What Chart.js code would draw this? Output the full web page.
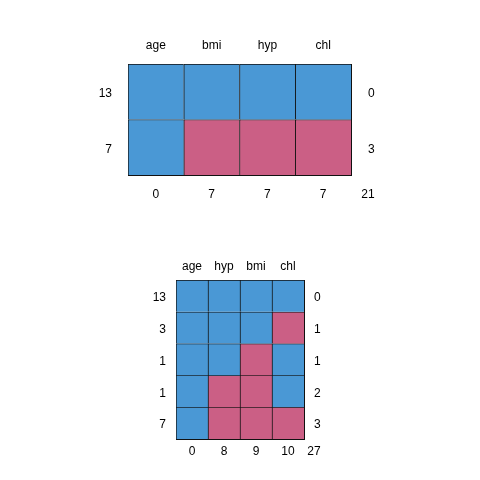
<!DOCTYPE html>
<html>
<head>
<meta charset="utf-8">
<script src="https://cdn.jsdelivr.net/npm/chart.js@4/dist/chart.umd.min.js"></script>
<style>
  body { margin: 0; background: #fff; }
  .panel { position: absolute; left: 0; width: 480px; height: 240px; }
</style>
</head>
<body>
<div class="panel" style="top:0"><canvas id="top" width="480" height="240"></canvas></div>
<div class="panel" style="top:240px"><canvas id="bottom" width="480" height="240"></canvas></div>
<script>
// first pattern: bmi, hyp, chl missing together
const cols1 = ['age', 'bmi', 'hyp', 'chl'];
const pattern1 = [[1, 1, 1, 1], [1, 0, 0, 0]];
const rowCounts1 = [13, 7];
const rowMissing1 = [0, 3];
const colMissing1 = [0, 7, 7, 7];
const total1 = 21;

// second pattern: full nhanes
const cols2 = ['age', 'hyp', 'bmi', 'chl'];
const pattern2 = [[1, 1, 1, 1], [1, 1, 1, 0], [1, 1, 0, 1], [1, 0, 0, 1], [1, 0, 0, 0]];
const rowCounts2 = [13, 3, 1, 1, 7];
const rowMissing2 = [0, 1, 1, 2, 3];
const colMissing2 = [0, 8, 9, 10];
const total2 = 27;

const BLUE = '#4a98d5';
const RED = '#cb5f85';
const FONT = { family: '"Liberation Sans", Arial, sans-serif', size: 12 };

function makePanel(id, cols, pattern, rowCounts, rowMissing, colMissing, total, g) {
    const datasets = pattern.map(row => ({
        data: row.map(() => 1),
        backgroundColor: row.map(v => v ? BLUE : RED),
        borderColor: '#111',
        borderWidth: { top: 1, left: 1, right: 0, bottom: 0 },
        borderSkipped: false,
        barPercentage: 1,
        categoryPercentage: 1
    }));

    const rowTicks = scale => { scale.ticks = rowCounts.map((_, i) => ({ value: i + 0.5 })); };
    const noGrid = { display: false, drawTicks: false };

    const totalLabel = {
        id: 'totalLabel',
        afterDraw(chart) {
            const ctx = chart.ctx;
            const yr = chart.scales.yr, xb = chart.scales.xb;
            ctx.save();
            ctx.font = `${FONT.size}px ${FONT.family}`;
            ctx.fillStyle = '#000';
            ctx.textAlign = 'center';
            ctx.textBaseline = 'middle';
            ctx.fillText(String(total), yr.left + g.yrPad, xb.top + g.xbPad + 7.2);
            ctx.restore();
        }
    };

    return new Chart(document.getElementById(id), {
        type: 'bar',
        data: { labels: cols, datasets: datasets },
        plugins: [totalLabel],
        options: {
            responsive: false,
            animation: false,
            layout: { padding: g.padding },
            plugins: { legend: { display: false }, tooltip: { enabled: false } },
            scales: {
                x: {
                    type: 'category', position: 'top', stacked: true, offset: true,
                    grid: noGrid, border: { display: false },
                    ticks: { font: FONT, color: '#000', padding: g.xPad, maxRotation: 0 },
                    afterFit: s => { s.height = g.xH; }
                },
                xb: {
                    type: 'category', position: 'bottom', labels: colMissing.map(String), offset: true,
                    grid: noGrid, border: { display: true, color: '#111', width: 1 },
                    ticks: { font: FONT, color: '#000', padding: g.xbPad, maxRotation: 0 },
                    afterFit: s => { s.height = g.xbH; }
                },
                y: {
                    type: 'linear', position: 'left', stacked: true, reverse: true,
                    min: 0, max: rowCounts.length,
                    grid: noGrid, border: { display: false },
                    afterBuildTicks: rowTicks,
                    ticks: { font: FONT, color: '#000', padding: g.yPad, labelOffset: 2,
                             callback: (v, i) => rowCounts[i] },
                    afterFit: s => { s.width = g.yW; }
                },
                yr: {
                    type: 'linear', position: 'right', reverse: true,
                    min: 0, max: rowCounts.length,
                    grid: noGrid, border: { display: true, color: '#111', width: 1 },
                    afterBuildTicks: rowTicks,
                    ticks: { font: FONT, color: '#000', padding: g.yrPad, labelOffset: 2,
                             callback: (v, i) => rowMissing[i] },
                    afterFit: s => { s.width = g.yrW; }
                }
            }
        }
    });
}

makePanel('top', cols1, pattern1, rowCounts1, rowMissing1, colMissing1, total1, {
    padding: { left: 40, right: 40, top: 20, bottom: 20 },
    xH: 44, xbH: 45, yW: 88, yrW: 89,
    xPad: 11, xbPad: 12, yPad: 16, yrPad: 17
});

makePanel('bottom', cols2, pattern2, rowCounts2, rowMissing2, colMissing2, total2, {
    padding: { left: 40, right: 40, top: 10, bottom: 10 },
    xH: 30, xbH: 31, yW: 136, yrW: 136,
    xPad: 6, xbPad: 5, yPad: 10, yrPad: 10
});
</script>
</body>
</html>
